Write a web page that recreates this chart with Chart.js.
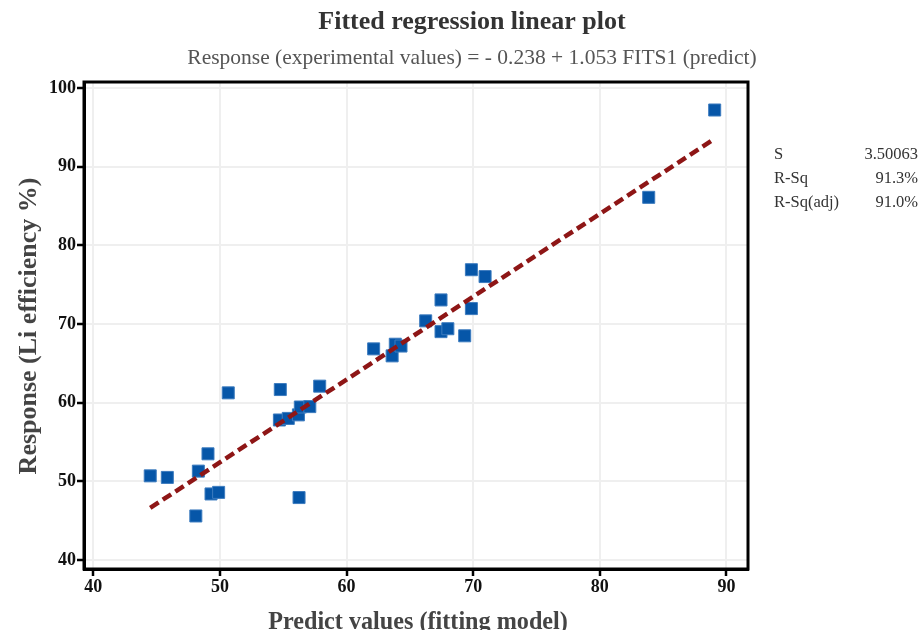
<!DOCTYPE html>
<html lang="en">
<head>
<meta charset="UTF-8">
<title>Fitted regression linear plot</title>
<script src="https://cdn.jsdelivr.net/npm/chart.js@4.4.1/dist/chart.umd.min.js"></script>
<style>
  html, body { margin: 0; padding: 0; background: #fff; }
  #wrap { width: 922px; height: 630px; position: relative; }
</style>
</head>
<body>
<div id="wrap"><canvas id="fitChart"></canvas></div>
<script>
// predicted (FITS1) vs experimental Li efficiency
const predicted = [44.5, 45.85, 48.1, 48.3, 49.06, 49.3, 49.9, 50.66, 54.77, 57.88,
                   56.25, 54.7, 55.4, 56.2, 56.35, 57.1, 62.14, 63.6, 63.85, 64.3,
                   66.25, 67.46, 67.46, 68.0, 69.33, 69.86, 69.86, 70.94, 83.86, 89.07];
const response  = [50.7, 50.5, 45.6, 51.3, 53.5, 48.4, 48.6, 61.25, 61.67, 62.1,
                   47.94, 57.8, 58.0, 58.45, 59.45, 59.5, 66.84, 65.95, 67.43, 67.2,
                   70.4, 73.06, 69.03, 69.4, 68.5, 71.96, 76.9, 76.03, 86.1, 97.2];

const intercept = -0.238;
const slope = 1.053;

const xTickValues = [40, 50, 60, 70, 80, 90];
const yTickValues = [40, 50, 60, 70, 80, 90, 100];

const statNames  = ['S', 'R-Sq', 'R-Sq(adj)'];
const statValues = ['3.50063', '91.3%', '91.0%'];

const titleText = 'Fitted regression linear plot';
const subtitleText = 'Response (experimental values) = - ' + Math.abs(intercept).toFixed(3) +
                     ' + ' + slope.toFixed(3) + ' FITS1 (predict)';
const xTitle = 'Predict values (fitting model)';
const yTitle = 'Response (Li efficiency %)';

// fitted line across the range of predicted values
const xLo = Math.min(...predicted), xHi = Math.max(...predicted);
const fitPoints = [
  { x: xLo, y: intercept + slope * xLo },
  { x: xHi, y: intercept + slope * xHi }
];

const SERIF = '"Liberation Serif", "Times New Roman", serif';

// titles, axis titles, stats block and the box outline
const decorations = {
  id: 'decorations',
  afterDraw(chart) {
    const ctx = chart.ctx;
    const a = chart.chartArea;
    ctx.save();

    ctx.strokeStyle = '#000';
    ctx.lineWidth = 3;
    ctx.strokeRect(a.left, a.top, a.right - a.left, a.bottom - a.top);

    ctx.textAlign = 'center';
    ctx.textBaseline = 'middle';
    ctx.fillStyle = '#333';
    ctx.font = 'bold 26px ' + SERIF;
    ctx.fillText(titleText, 472, 22);

    ctx.fillStyle = '#555';
    ctx.font = '21.5px ' + SERIF;
    ctx.fillText(subtitleText, 472, 58);

    // axis titles sit on their baselines; the x title runs to the bottom edge
    ctx.fillStyle = '#444';
    ctx.font = 'bold 26px ' + SERIF;
    ctx.textBaseline = 'alphabetic';
    ctx.save();
    ctx.translate(418, 629);
    ctx.scale(0.93, 1);
    ctx.fillText(xTitle, 0, 0);
    ctx.restore();

    ctx.save();
    ctx.translate(36, 326);
    ctx.rotate(-Math.PI / 2);
    ctx.fillText(yTitle, 0, 0);
    ctx.restore();

    ctx.textBaseline = 'middle';
    ctx.font = '16.5px ' + SERIF;
    ctx.fillStyle = '#333';
    statNames.forEach((name, i) => {
      const y = 155 + i * 24;
      ctx.textAlign = 'left';
      ctx.fillText(name, 774, y);
      ctx.textAlign = 'right';
      ctx.fillText(statValues[i], 918, y);
    });

    ctx.restore();
  }
};

new Chart(document.getElementById('fitChart'), {
  type: 'scatter',
  data: {
    datasets: [
      {
        type: 'line',
        label: 'Fit',
        data: fitPoints,
        borderColor: '#8e1616',
        borderWidth: 4.5,
        borderDash: [10, 5],
        pointRadius: 0,
        fill: false
      },
      {
        label: 'Response',
        data: predicted.map((x, i) => ({ x: x, y: response[i] })),
        pointStyle: 'rect',
        pointRadius: 8.5,
        backgroundColor: '#0656a8',
        borderColor: '#3d7cbf',
        borderWidth: 1
      }
    ]
  },
  options: {
    responsive: true,
    maintainAspectRatio: false,
    animation: false,
    layout: { padding: { left: 0, top: 82, right: 174, bottom: 0 } },
    plugins: {
      legend: { display: false },
      tooltip: { enabled: false }
    },
    scales: {
      x: {
        type: 'linear',
        min: 39.27,
        max: 91.7,
        afterBuildTicks: s => { s.ticks = xTickValues.map(v => ({ value: v })); },
        afterFit: s => { s.height = 61; },
        grid: { color: '#efefef', lineWidth: 2, tickColor: '#000', tickWidth: 2.5, tickLength: 7 },
        border: { color: '#000', width: 3 },
        ticks: {
          color: '#111',
          padding: 1,
          font: { family: SERIF, size: 18, weight: 'bold' }
        }
      },
      y: {
        type: 'linear',
        min: 38.86,
        max: 100.76,
        afterBuildTicks: s => { s.ticks = yTickValues.map(v => ({ value: v })); },
        afterFit: s => { s.width = 84; },
        grid: { color: '#efefef', lineWidth: 2, tickColor: '#000', tickWidth: 2.5, tickLength: 7 },
        border: { color: '#000', width: 3 },
        ticks: {
          color: '#111',
          padding: 1,
          font: { family: SERIF, size: 18, weight: 'bold' }
        }
      }
    }
  },
  plugins: [decorations]
});
</script>
</body>
</html>
